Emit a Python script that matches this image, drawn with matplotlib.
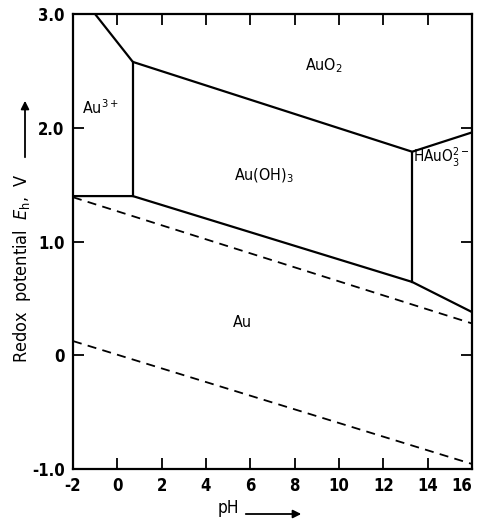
import matplotlib
matplotlib.use("Agg")
import matplotlib.pyplot as plt

# ── Data (pH, E_h in V) ───────────────────────────────────────────────────────
upper_ph = [-1.0, 0.7, 13.3, 16.0]          # Au3+/Au(OH)3/HAuO3 vs AuO2
upper_e  = [3.0, 2.58, 1.79, 1.96]
lower_ph = [-2.0, 0.7, 13.3, 16.0]          # boundary vs metallic Au
lower_e  = [1.40, 1.40, 0.645, 0.38]
left_wall_ph  = [0.7, 0.7]                  # Au3+ | Au(OH)3
left_wall_e   = [1.40, 2.58]
right_wall_ph = [13.3, 13.3]                # Au(OH)3 | HAuO3(2-)
right_wall_e  = [0.645, 1.79]
o2_ph = [-2.0, 16.0]                        # water stability, upper
o2_e  = [1.39, 0.28]
h2_ph = [-2.0, 16.0]                        # water stability, lower
h2_e  = [0.125, -0.956]

region_labels = ["Au$^{3+}$", "AuO$_2$", "Au(OH)$_3$", "HAuO$_3^{2-}$", "Au"]
region_ph     = [-0.75, 9.3, 6.6, 14.62, 5.65]
region_e      = [2.18, 2.55, 1.58, 1.74, 0.29]
region_size   = [11.5, 11.5, 11.5, 11, 11.5]

x_ticks = [-2, 0, 2, 4, 6, 8, 10, 12, 14, 16]
y_ticks = [-1.0, 0.0, 1.0, 2.0, 3.0]
y_tick_labels = ["-1.0", "0", "1.0", "2.0", "3.0"]

# ── Plot ──────────────────────────────────────────────────────────────────────
plt.rcParams["font.family"] = ["DejaVu Sans"]
plt.rcParams["font.stretch"] = "condensed"
plt.rcParams["mathtext.fontset"] = "dejavusans"
plt.rcParams["axes.unicode_minus"] = False
fig = plt.figure(figsize=(4.78, 5.24), dpi=100)
ax = fig.add_axes([0.1527, 0.105, 0.8347, 0.868])

lw = 1.6
ax.plot(upper_ph, upper_e, color="black", lw=lw)
ax.plot(lower_ph, lower_e, color="black", lw=lw)
ax.plot(left_wall_ph, left_wall_e, color="black", lw=lw)
ax.plot(right_wall_ph, right_wall_e, color="black", lw=lw)
ax.plot(o2_ph, o2_e, color="black", lw=1.3, linestyle=(0, (5, 3.5)))
ax.plot(h2_ph, h2_e, color="black", lw=1.3, linestyle=(0, (5, 3.5)))

for lab, px, py, fs in zip(region_labels, region_ph, region_e, region_size):
    ax.text(px, py, lab, fontsize=fs, ha="center", va="center")

ax.set_xlim(-2, 16)
ax.set_ylim(-1.0, 3.0)
ax.set_xticks(x_ticks)
ax.set_yticks(y_ticks)
ax.set_yticklabels(y_tick_labels)
ax.tick_params(direction="in", length=8, width=1.3, top=True, right=True,
               labelsize=12, pad=6)
for lbl in ax.get_xticklabels() + ax.get_yticklabels():
    lbl.set_fontweight("semibold")
ax.get_xticklabels()[-1].set_horizontalalignment("right")
for sp in ax.spines.values():
    sp.set_linewidth(1.6)

# axis titles with arrows
fig.text(228 / 478, 1 - 508 / 524, "pH", fontsize=12.5, ha="center", va="center")
fig.patches.append(matplotlib.patches.FancyArrowPatch(
    (243 / 478, 1 - 514 / 524), (304 / 478, 1 - 514 / 524),
    transform=fig.transFigure, arrowstyle="-|>", mutation_scale=12,
    color="black", lw=1.3))

fig.text(22 / 478, 1 - 268 / 524, "Redox  potential  $E_\\mathrm{h}$,  V",
         fontsize=13, rotation=90, ha="center", va="center")
fig.patches.append(matplotlib.patches.FancyArrowPatch(
    (25 / 478, 1 - 160 / 524), (25 / 478, 1 - 98 / 524),
    transform=fig.transFigure, arrowstyle="-|>", mutation_scale=12,
    color="black", lw=1.3))

fig.savefig("out.png", dpi=100)
